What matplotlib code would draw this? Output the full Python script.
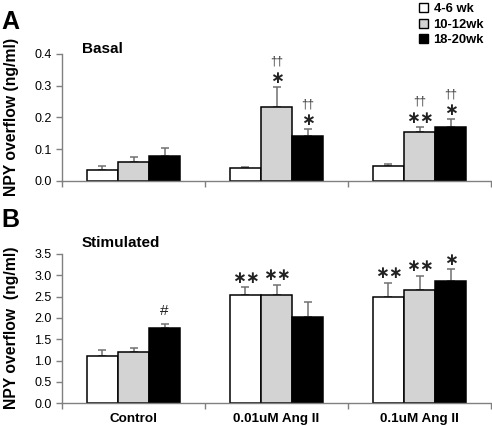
import matplotlib
matplotlib.use("Agg")
import matplotlib.pyplot as plt
import numpy as np
from matplotlib.patches import Patch

plt.rcParams['font.family'] = ['Liberation Sans', 'DejaVu Sans']

categories = ["Control", "0.01uM Ang II", "0.1uM Ang II"]
series = ["4-6 wk", "10-12wk", "18-20wk"]
colors = ["white", "#d3d3d3", "black"]

basal_vals = [[0.033, 0.040, 0.047], [0.058, 0.232, 0.153], [0.079, 0.141, 0.168]]
basal_err = [[0.014, 0.003, 0.007], [0.018, 0.064, 0.017], [0.025, 0.021, 0.026]]
basal_star = [["", "", ""], ["", "*", "**"], ["", "*", "*"]]
basal_dag = [["", "", ""], ["", "††", "††"], ["", "††", "††"]]

stim_vals = [[1.11, 2.54, 2.50], [1.20, 2.53, 2.65], [1.77, 2.02, 2.86]]
stim_err = [[0.15, 0.18, 0.32], [0.09, 0.25, 0.33], [0.10, 0.36, 0.28]]
stim_star = [["", "**", "**"], ["", "**", "**"], ["#", "", "*"]]

yticksA = [0.0, 0.1, 0.2, 0.3, 0.4]
yticksB = [0.0, 0.5, 1.0, 1.5, 2.0, 2.5, 3.0, 3.5]

W, H = 492, 426
fig = plt.figure(figsize=(W / 100, H / 100), dpi=100)
axA = fig.add_axes([62 / W, 1 - 180.7 / H, 429 / W, 126.7 / H])
axB = fig.add_axes([62 / W, 1 - 403.3 / H, 429 / W, 149.3 / H])

bw = 0.217
x = np.arange(len(categories))
spine_c = "#808080"


def style(ax, yt, fmt):
    ax.set_xlim(-0.5, 2.5)
    ax.set_ylim(yt[0], yt[-1])
    ax.set_yticks(yt)
    ax.set_yticklabels([fmt % v for v in yt], fontsize=9)
    ax.set_xticks([-0.5, 0.5, 1.5, 2.5])
    ax.set_xticklabels([])
    ax.set_xticks(x, minor=True)
    ax.tick_params(axis='x', which='minor', length=0)
    ax.tick_params(axis='both', which='major', direction='out', length=4,
                   color=spine_c, width=1)
    for s in ["top", "right"]:
        ax.spines[s].set_visible(False)
    for s in ["left", "bottom"]:
        ax.spines[s].set_color(spine_c)
        ax.spines[s].set_linewidth(1)


def draw(ax, vals, errs):
    tops = []
    for i, (v, e, c) in enumerate(zip(vals, errs, colors)):
        xs = x + (i - 1) * bw
        ax.bar(xs, v, width=bw, color=c, edgecolor="black", linewidth=1.1, zorder=2)
        ax.errorbar(xs, v, yerr=[np.zeros(len(e)), e], fmt="none", ecolor="#707070",
                    elinewidth=1.1, capsize=3, capthick=1.1, zorder=1)
        tops.append((xs, np.array(v) + np.array(e)))
    return tops


topsA = draw(axA, basal_vals, basal_err)
topsB = draw(axB, stim_vals, stim_err)
style(axA, yticksA, "%.1f")
style(axB, yticksB, "%.1f")

star_kw = dict(textcoords="offset points", ha="center", va="center",
               fontsize=12, family="DejaVu Sans", fontweight="bold", color="#222222")

for i, (xs, tp) in enumerate(topsA):
    for j in range(3):
        if basal_star[i][j]:
            axA.annotate(basal_star[i][j].replace("*", "∗"), (xs[j], tp[j]),
                         xytext=(0, 6.5), **star_kw)
        if basal_dag[i][j]:
            axA.annotate(basal_dag[i][j], (xs[j], tp[j]), xytext=(0, 18),
                         textcoords="offset points", ha="center", va="center",
                         fontsize=8.5, color="#333333")

for i, (xs, tp) in enumerate(topsB):
    for j in range(3):
        lab = stim_star[i][j]
        if lab == "#":
            axB.annotate(lab, (xs[j], tp[j]), xytext=(0, 9), textcoords="offset points",
                         ha="center", va="center", fontsize=11, color="#222222")
        elif lab:
            axB.annotate(lab.replace("*", "∗"), (xs[j], tp[j]), xytext=(0, 7),
                         **star_kw)

axB.set_xticks(x, minor=True)
axB.set_xticklabels(categories, minor=True, fontsize=9.7, fontweight="bold")
axB.tick_params(axis='x', which='minor', pad=7)

fig.text(82 / W, 1 - 49 / H, "Basal", fontsize=11, fontweight="bold", va="center", ha="left")
fig.text(82 / W, 1 - 243 / H, "Stimulated", fontsize=11, fontweight="bold",
         va="center", ha="left")

fig.text(1 / W, 1 - 22 / H, "A", fontsize=18, fontweight="bold", va="center", ha="left")
fig.text(1 / W, 1 - 220 / H, "B", fontsize=18, fontweight="bold", va="center", ha="left")

fig.text(12 / W, 1 - 117 / H, "NPY overflow (ng/ml)", rotation=90, fontsize=11.3,
         fontweight="bold", va="center", ha="center")
fig.text(12 / W, 1 - 328 / H, "NPY overflow  (ng/ml)", rotation=90, fontsize=11.3,
         fontweight="bold", va="center", ha="center")

handles = [Patch(facecolor=c, edgecolor="black", linewidth=1) for c in colors]
fig.legend(handles, series, loc="upper left", bbox_to_anchor=(414 / W, 1 + 2 / H),
           frameon=False, handlelength=0.7, handleheight=0.7,
           handletextpad=0.4, labelspacing=0.25, borderaxespad=0,
           prop={'weight': 'bold', 'size': 9.4})

fig.savefig("out.png", dpi=100)
